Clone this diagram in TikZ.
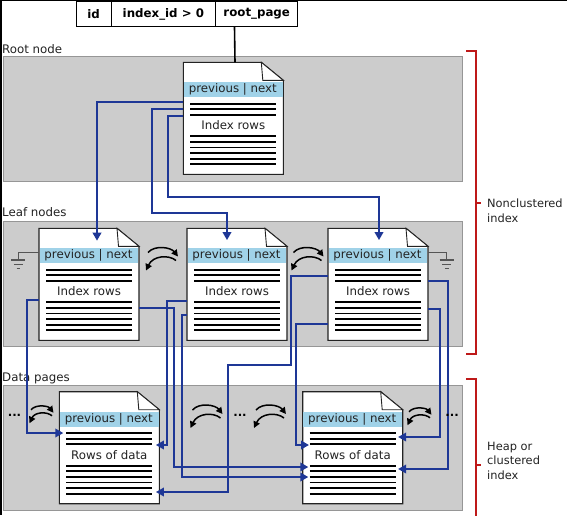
\documentclass[tikz,border=0pt]{standalone}
\usepackage{fontspec}
\setmainfont{DejaVu Sans}
\usetikzlibrary{arrows.meta,calc}

\definecolor{bandgray}{RGB}{204,204,204}
\definecolor{bandedge}{RGB}{150,150,150}
\definecolor{hdrblue}{RGB}{160,210,232}
\definecolor{linkblue}{RGB}{30,55,150}
\definecolor{bracketred}{RGB}{190,25,25}
\definecolor{inkgray}{RGB}{35,35,35}
\definecolor{gndgray}{RGB}{85,85,85}

\tikzset{
  band/.style={fill=bandgray,draw=bandedge,line width=0.9pt},
  pagebox/.style={rectangle,anchor=north west,minimum width=100pt,
    minimum height=112pt,inner sep=0pt,draw=none},
  pageedge/.style={draw=inkgray,line width=1.1pt,fill=white},
  rowline/.style={line width=1.9pt,draw=black},
  pagetext/.style={font=\fontsize{11.8}{14}\selectfont,text=inkgray,inner sep=0pt},
  lbl/.style={font=\fontsize{11.8}{14}\selectfont,text=inkgray,inner sep=0pt,anchor=base west},
  sidelbl/.style={font=\fontsize{11.4}{14.8}\selectfont,text=inkgray,inner sep=0pt,
    anchor=north west,align=left},
  cell/.style={draw=black,line width=1pt,fill=white,minimum height=25pt,inner sep=0pt,
    font=\bfseries\fontsize{11.8}{14}\selectfont},
  stem/.style={draw=black,line width=1.6pt},
  link/.style={draw=linkblue,line width=1.9pt,-{Triangle[length=8pt,width=8.5pt]}},
  swapline/.style={draw=black,line width=1.5pt,-{Triangle[length=6.5pt,width=6.5pt]}},
  gnd/.style={draw=gndgray,line width=1.1pt},
  bracket/.style={draw=bracketred,line width=1.8pt},
  ellip/.style={font=\bfseries\fontsize{11.8}{14}\selectfont,inner sep=0pt,anchor=base},
  swap/.pic={
    \draw[swapline] (-14,-7) .. controls (-7,-15) and (9,-12) .. (16,-3);
    \draw[swapline] (14,1) .. controls (7,-5) and (-9,-4) .. (-16,11);
  },
  ground/.pic={
    \draw[gnd] (-7,0) -- (7,0) (-4.4,4.2) -- (4.4,4.2) (-1.8,8.2) -- (1.8,8.2);
  }
}

% A document page with a folded corner, the previous/next header and row lines
\newcommand\docpage[4]{%
  \begin{scope}[shift={(#2,#3)}]
    \node[pagebox] (#1) at (0,0) {};
    \filldraw[pageedge] (0,0) -- (78,0) -- (100,18) -- (100,112) -- (0,112) -- cycle;
    \filldraw[pageedge,line width=0.9pt] (78,0) -- (79.5,18) -- (100,18) -- cycle;
    \fill[hdrblue] (0.6,20) rectangle (99.4,35);
    \node[pagetext] (#1-hdr) at (49.5,27.5) {previous | next};
    \foreach \r in {41.5,47,52.5,74,79.6,85.2,90.8,96.4,102}
      \draw[rowline] (7,\r) -- (93,\r);
    \node[pagetext] (#1-txt) at (50,63) {#4};
  \end{scope}%
}

\begin{document}
\begin{tikzpicture}[x=1pt,y=-1pt]
\useasboundingbox (0,0) rectangle (567,515);
\fill[white] (0,0) rectangle (567,515);
\fill[black] (0,0) rectangle (567,1.4);
\fill[black] (0,0) rectangle (1.6,515);

% level bands
\draw[band] (3.5,56.7) rectangle (462.7,181.5);
\draw[band] (3.5,221) rectangle (462.7,346);
\draw[band] (3.5,385) rectangle (462.7,510);

\node[lbl] (lroot) at (2,53) {Root node};
\node[lbl] (lleaf) at (2,216.5) {Leaf nodes};
\node[lbl] (ldata) at (2,381) {Data pages};

% sys.indexes style header row
\node[cell,minimum width=35pt] (cid) at (93.5,14.2) {id};
\node[cell,minimum width=104.7pt] (cidx) at (163.35,14.2) {index\_id > 0};
\node[cell,minimum width=82pt] (croot) at (256.7,14.2) {root\_page};

% pages
\docpage{rootp}{183.3}{62.3}{Index rows}
\docpage{leafA}{39}{228.3}{Index rows}
\docpage{leafB}{187}{228.3}{Index rows}
\docpage{leafC}{328}{228.3}{Index rows}
\docpage{dataA}{59.3}{391.7}{Rows of data}
\docpage{dataB}{302.7}{391.7}{Rows of data}

\draw[stem] ($(croot.south west)+(19.3,0)$) -- ($(rootp.north west)+(51.7,0)$);

% root level to leaf level
\draw[link] ($(rootp.north west)+(0,39.5)$) -| ($(leafA.north west)+(58,12.4)$);
\draw[link] ($(rootp.north west)+(0,46.7)$) -| (152,213) -| ($(leafB.north west)+(40,11.8)$);
\draw[link] ($(rootp.north west)+(0,53.7)$) -| (168,197) -| ($(leafC.north west)+(51,11.8)$);

% leaf level to data pages
\draw[link] ($(leafA.north west)+(0,71.7)$) -| (27,433) -- ($(dataA.north west)+(4,41.3)$);
\draw[link] ($(leafA.north east)+(0,80)$) -| (174,467) -- ($(dataB.north west)+(5.6,75.3)$);
\draw[link] ($(leafB.north west)+(0,72.4)$) -| (167,445) -- ($(dataA.north east)+(-3.8,53.3)$);
\draw[link] ($(leafB.north west)+(0,86.7)$) -| (182,477) -- ($(dataB.north west)+(5.6,85.3)$);
\draw[link] ($(leafC.north west)+(0,47.7)$) -| (291,365) -| (228,492) -- ($(dataA.north east)+(-3.8,100.3)$);
\draw[link] ($(leafC.north west)+(0,96)$) -| (296,445) -- ($(dataB.north west)+(6.3,53.3)$);
\draw[link] ($(leafC.north east)+(0,52.7)$) -| (448,469) -- ($(dataB.north east)+(-5,77.3)$);
\draw[link] ($(leafC.north east)+(0,80.4)$) -| (440,437) -- ($(dataB.north east)+(-5,45.3)$);

% sibling links
\pic at (162,259.5) {swap};
\pic at (307.5,259.5) {swap};
\pic[scale=0.75] at (41.5,415) {swap};
\pic at (206.5,417) {swap};
\pic at (270,417) {swap};
\pic[scale=0.75] at (419.5,417) {swap};

\node[ellip] (dotsL) at (14.5,416) {...};
\node[ellip] (dotsM) at (240,416) {...};
\node[ellip] (dotsR) at (452,416) {...};

% chain ends
\draw[gnd] ($(leafA.north west)+(0,24)$) -| (18.3,260);
\pic at (18.3,260) {ground};
\draw[gnd] ($(leafC.north east)+(0,24)$) -| (446.7,260);
\pic at (446.7,260) {ground};

% brackets
\draw[bracket] (466,50.7) -- (476,50.7) -- (476,354) -- (466,354);
\draw[bracket] (476,203.3) -- (480.5,203.3);
\node[sidelbl] (ncl) at (487,198.5) {Nonclustered\\index};
\draw[bracket] (466,379.3) -- (476,379.3) -- (476,516);
\draw[bracket] (476,465) -- (480.5,465);
\node[sidelbl] (heap) at (487,441.5) {Heap or\\clustered\\index};
\end{tikzpicture}
\end{document}
